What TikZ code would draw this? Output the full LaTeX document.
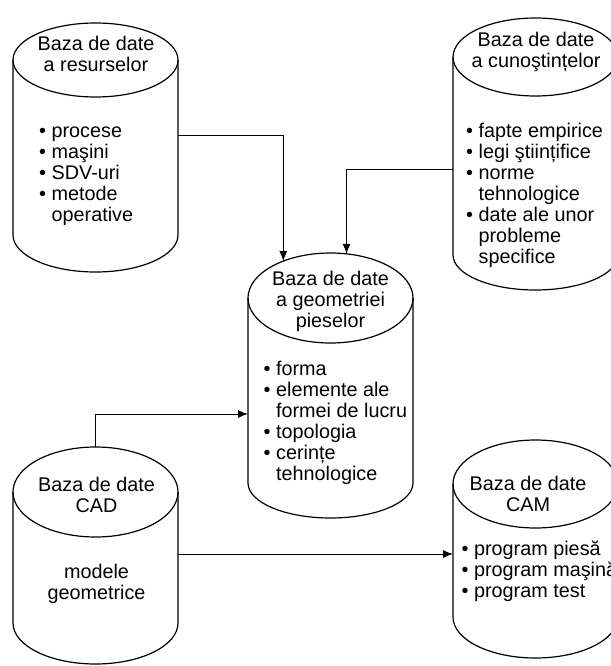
\documentclass[tikz,border=0pt]{standalone}
\usepackage{fontspec}
\setmainfont{Liberation Sans}
\usetikzlibrary{arrows.meta,positioning,shapes.geometric}
\newcommand{\indt}{\hphantom{•\ }}

\begin{document}
\begin{tikzpicture}[x=1pt, y=-1pt,
  dbtop/.style={draw, ellipse, line width=1.2pt, minimum width=165pt, inner sep=0pt, outer sep=0pt},
  dbside/.style={line width=1.2pt},
  title/.style={align=center, inner sep=0pt, font=\fontsize{19.8}{21}\selectfont},
  items/.style={align=left, anchor=north west, inner sep=0pt, font=\fontsize{19.8}{21}\selectfont},
  link/.style={line width=1pt, -{Latex[length=10pt,width=8pt]}}
]
\useasboundingbox (0,0) rectangle (610,666);

% resurse
\node[dbtop, minimum height=74pt] (resT) at (95.5,60) {};
\draw[dbside] (resT.west) -- ++(0pt,-175pt) arc[start angle=180, end angle=360, x radius=82.5pt, y radius=37pt] -- (resT.east);
\node[title] (resH) at (96,54) {Baza de date\\a resurselor};
\node[items] (resL) at (39,127) {• procese\\• maşini\\• SDV-uri\\• metode\\\indt operative};

% cunostinte
\node[dbtop, minimum height=78pt] (cunT) at (535.5,57) {};
\draw[dbside] (cunT.west) -- ++(0pt,-198pt) arc[start angle=180, end angle=360, x radius=82.5pt, y radius=35pt] -- (cunT.east);
\node[title] (cunH) at (536,52) {Baza de date\\a cunoştințelor};
\node[items] (cunL) at (466,123) {• fapte empirice\\• legi ştiințifice\\• norme\\\indt tehnologice\\• date ale unor\\\indt probleme\\\indt specifice};

% geometrie
\node[dbtop, minimum height=90pt] (geoT) at (330.5,298) {};
\draw[dbside] (geoT.west) -- ++(0pt,-185pt) arc[start angle=180, end angle=360, x radius=82.5pt, y radius=35pt] -- (geoT.east);
\node[title] (geoH) at (330.5,301) {Baza de date\\a geometriei\\pieselor};
\node[items] (geoL) at (263.5,361) {• forma\\• elemente ale\\\indt formei de lucru\\• topologia\\• cerințe\\\indt tehnologice};

% CAD
\node[dbtop, minimum height=90pt] (cadT) at (95.5,492) {};
\draw[dbside] (cadT.west) -- ++(0pt,-131pt) arc[start angle=180, end angle=360, x radius=82.5pt, y radius=41pt] -- (cadT.east);
\node[title] (cadH) at (96.5,495) {Baza de date\\CAD};
\node[title] (cadL) at (96.5,584) {modele\\geometrice};

% CAM
\node[dbtop, minimum height=88pt] (camT) at (535.5,484) {};
\draw[dbside] (camT.west) -- ++(0pt,-133pt) arc[start angle=180, end angle=360, x radius=82.5pt, y radius=41pt] -- (camT.east);
\node[title] (camH) at (528,494) {Baza de date\\CAM};
\node[items] (camL) at (461.5,541) {• program piesă\\• program maşină\\• program test};

% legaturi
\draw[link] ([yshift=-75pt]resT.east) -| (geoT.142);
\draw[link] ([yshift=-112pt]cunT.west) -| (geoT.70);
\draw[link] (cadT.north) |- ([yshift=-116pt]geoT.west);
\draw[link] ([yshift=-62pt]cadT.east) -- ([yshift=-62pt]cadT.east -| camT.west);
\end{tikzpicture}
\end{document}
